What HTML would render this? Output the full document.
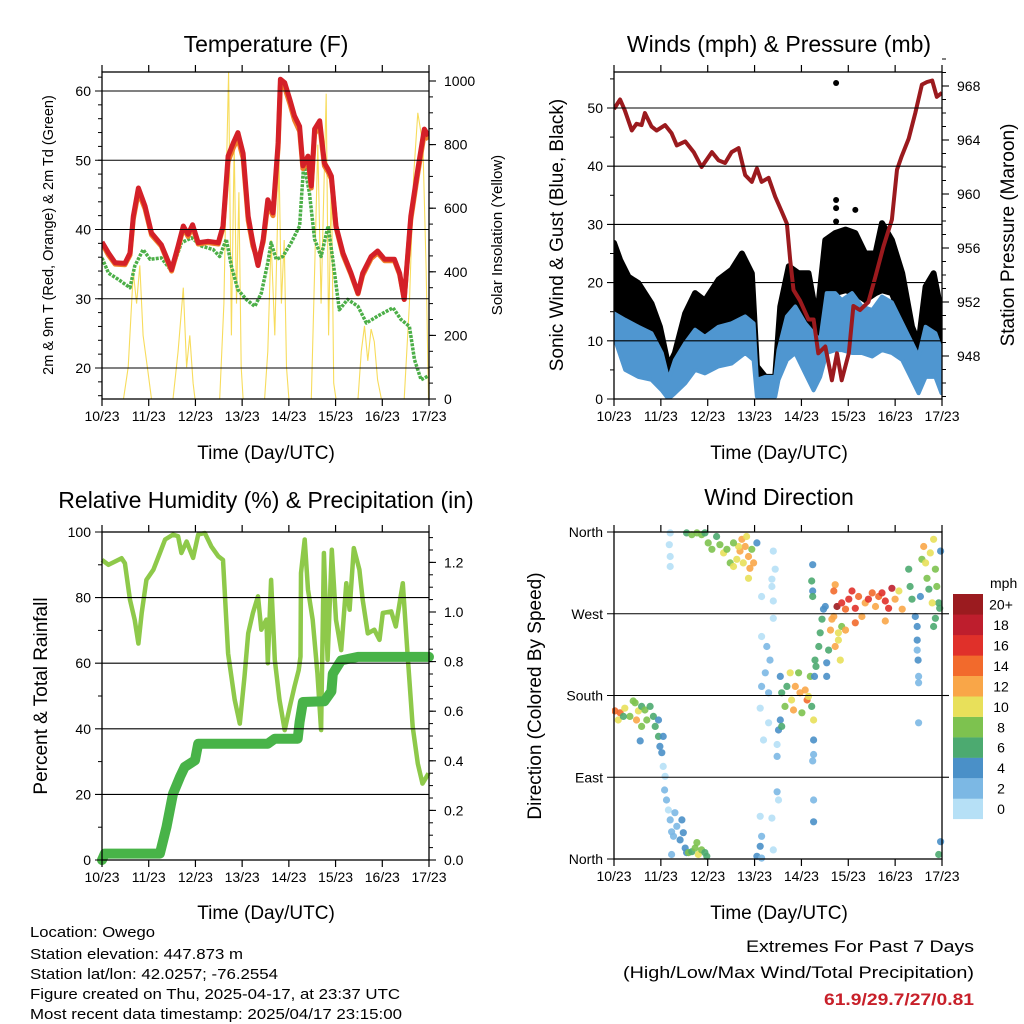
<!DOCTYPE html>
<html><head><meta charset="utf-8"><style>
html,body{margin:0;padding:0;background:#fff;}
svg{display:block;font-family:"Liberation Sans",Arial,sans-serif;}
</style></head><body>
<svg id="fig" width="1024" height="1024" viewBox="0 0 1024 1024" xmlns="http://www.w3.org/2000/svg">
<defs>
<clipPath id="c1"><rect x="102" y="72" width="327" height="327"/></clipPath>
<clipPath id="c2"><rect x="614" y="72" width="328" height="327"/></clipPath>
<clipPath id="c3"><rect x="96" y="526" width="340" height="340"/></clipPath>
<clipPath id="c4"><rect x="612" y="528" width="334" height="336"/></clipPath>
</defs>
<text x="266" y="52" font-size="23" text-anchor="middle">Temperature (F)</text>
<text x="779" y="52" font-size="23" text-anchor="middle">Winds (mph) &amp; Pressure (mb)</text>
<text x="266" y="508" font-size="23" text-anchor="middle">Relative Humidity (%) &amp; Precipitation (in)</text>
<text x="779" y="505" font-size="23" text-anchor="middle">Wind Direction</text>
<text x="266" y="459" font-size="19" text-anchor="middle">Time (Day/UTC)</text>
<text x="779" y="459" font-size="19" text-anchor="middle">Time (Day/UTC)</text>
<text x="266" y="919" font-size="19" text-anchor="middle">Time (Day/UTC)</text>
<text x="779" y="919" font-size="19" text-anchor="middle">Time (Day/UTC)</text>
<text transform="translate(53,235) rotate(-90)" font-size="14.5" text-anchor="middle">2m &amp; 9m T (Red, Orange) &amp; 2m Td (Green)</text>
<text transform="translate(502,235) rotate(-90)" font-size="15" text-anchor="middle">Solar Insolation (Yellow)</text>
<text transform="translate(563,235) rotate(-90)" font-size="19" text-anchor="middle">Sonic Wind &amp; Gust (Blue, Black)</text>
<text transform="translate(1014,235) rotate(-90)" font-size="19" text-anchor="middle">Station Pressure (Maroon)</text>
<text transform="translate(47,696) rotate(-90)" font-size="19" text-anchor="middle">Percent &amp; Total Rainfall</text>
<text transform="translate(541,696) rotate(-90)" font-size="19" text-anchor="middle">Direction (Colored By Speed)</text>
<g font-size="15">
<text x="30" y="937" textLength="125" lengthAdjust="spacingAndGlyphs">Location: Owego</text>
<text x="30" y="959" textLength="213" lengthAdjust="spacingAndGlyphs">Station elevation: 447.873 m</text>
<text x="30" y="979" textLength="248" lengthAdjust="spacingAndGlyphs">Station lat/lon: 42.0257; -76.2554</text>
<text x="30" y="999" textLength="370" lengthAdjust="spacingAndGlyphs">Figure created on Thu, 2025-04-17, at 23:37 UTC</text>
<text x="30" y="1019" textLength="372" lengthAdjust="spacingAndGlyphs">Most recent data timestamp: 2025/04/17 23:15:00</text>
</g>
<g font-size="17">
<text x="974" y="952" text-anchor="end" textLength="228" lengthAdjust="spacingAndGlyphs">Extremes For Past 7 Days</text>
<text x="974" y="978" text-anchor="end" textLength="351" lengthAdjust="spacingAndGlyphs">(High/Low/Max Wind/Total Precipitation)</text>
<text x="974" y="1005" text-anchor="end" font-weight="bold" fill="#c8202a" textLength="150" lengthAdjust="spacingAndGlyphs">61.9/29.7/27/0.81</text>
</g>
</svg>
<script>
// ---------- data ----------
const dayLabels=["10/23","11/23","12/23","13/23","14/23","15/23","16/23","17/23"];
// Temperature panel
const tempDays=[0,.14,.28,.49,.60,.67,.78,.92,1.06,1.27,1.49,1.63,1.74,1.84,1.94,2.06,2.27,2.49,2.59,2.70,2.81,2.91,3.02,3.13,3.23,3.34,3.45,3.55,3.66,3.77,3.82,3.91,4.02,4.12,4.23,4.30,4.41,4.48,4.55,4.66,4.76,4.84,4.91,5.01,5.16,5.33,5.48,5.58,5.76,5.90,6.05,6.26,6.37,6.47,6.61,6.76,6.90,6.99];
const temp2m=[38.2,36.6,35.2,35.1,36.6,41.9,46,43.4,39.5,37.8,34.2,37.6,40.5,39.3,40.7,38.1,38.3,38.1,40.5,50.6,52.5,54,51,41.9,38.1,34.8,38.6,44.3,42.4,52.5,61.7,61.2,58.8,56.4,54.9,49.2,50.6,46.3,54.5,55.7,49.6,48.7,47.7,40.5,36.6,33.7,30.8,33.7,36.1,36.9,35.7,35.7,33.7,29.9,41.9,48.7,54.5,53.5];
const temp9m=[38.0,36.3,35.0,34.9,36.3,41.5,45.4,43.0,39.2,37.6,34.0,37.3,40.2,39.0,40.3,37.9,38.1,37.9,40.2,49.8,51.8,53.2,50.3,41.3,37.6,35.5,38.2,43.6,42.0,51.8,60.8,60.5,58.2,55.8,54.2,48.8,50.1,46.0,53.8,55.0,49.2,48.3,47.3,40.3,36.3,33.5,30.7,33.4,35.8,36.6,35.5,35.5,33.5,29.9,41.4,48.1,53.8,53.0];
const dewDays=[0,.14,.35,.60,.70,.88,1.03,1.27,1.49,1.70,1.92,2.13,2.38,2.52,2.66,2.77,2.91,3.09,3.27,3.41,3.55,3.62,3.73,3.87,4.05,4.23,4.32,4.44,4.55,4.69,4.84,4.94,5.08,5.26,5.48,5.66,5.90,6.23,6.40,6.58,6.69,6.83,6.97];
const dewPoint=[35.9,33.7,32.8,31.6,34.7,37.1,35.7,35.9,34,38.1,38.8,37.6,37.1,36.1,38.6,34.7,31.3,29.9,28.9,30.8,35.2,38.1,35.7,36.1,38.1,40.5,49.6,45.3,38.6,36.1,40.5,35.7,28.4,29.9,28.9,26.5,27.5,28.7,27,26,21.2,18.3,18.8];
const solarDays=[0,.46,.56,.67,.74,.81,.88,.99,1.06,1.52,1.63,1.74,1.81,1.88,1.95,1.99,2.52,2.61,2.66,2.71,2.77,2.83,2.88,2.93,2.98,3.02,3.48,3.55,3.62,3.70,3.79,3.84,3.90,3.95,4.00,4.48,4.55,4.62,4.69,4.80,4.85,4.91,4.96,5.01,5.48,5.55,5.62,5.69,5.76,5.83,5.90,5.98,6.47,6.58,6.67,6.76,6.87,6.94,6.99];
const solar=[0,0,100,400,300,420,200,80,0,0,150,350,100,200,50,0,0,300,700,1030,200,800,300,650,100,0,0,150,500,200,750,300,500,100,0,0,400,800,300,960,200,700,50,0,0,150,230,120,220,180,60,0,0,300,700,900,800,400,0];
// Wind / pressure panel
const pressDays=[0,.13,.23,.38,.48,.59,.66,.80,.91,1.09,1.23,1.34,1.52,1.70,1.87,2.09,2.23,2.37,2.51,2.66,2.80,2.94,3.05,3.15,3.30,3.44,3.58,3.69,3.76,3.83,3.97,4.15,4.26,4.36,4.51,4.65,4.76,4.86,5.01,5.11,5.25,5.43,5.58,5.75,5.93,6.04,6.14,6.29,6.43,6.57,6.68,6.79,6.89,7.0];
const pressure=[966.3,967,966.2,964.7,965.2,965.1,966,965,964.7,965.1,964.5,963.6,963.9,963.1,962,963.1,962.5,962.3,963.1,963.4,961.4,960.9,961.9,960.9,961.2,959.8,958.7,957.8,955.1,952.9,952.1,950.7,950.7,948.2,948.7,946.2,948.2,946.2,948.2,951.7,951.4,952,953.9,956.1,958.1,961.8,962.8,964.1,966,968.1,968.3,968.4,967.2,967.5];
const sustDays=[0,.24,.52,.80,1.02,1.16,1.30,1.52,1.73,1.94,2.23,2.51,2.80,2.98,3.05,3.23,3.44,3.51,3.69,3.87,4.08,4.26,4.40,4.54,4.72,4.86,5.08,5.29,5.51,5.72,5.93,6.15,6.36,6.50,6.65,6.86,6.99];
const sustLow=[10.7,5.0,3.8,3.3,1.5,0,1.0,2.7,5.0,4.4,5.6,6.1,7.9,6.7,0.4,0,0.4,3.3,6.7,7.9,4.4,1.5,3.8,7.9,8.4,8.4,7.9,7.9,7.3,8.4,7.9,6.7,3.3,1.0,3.8,3.8,1.0];
const sustHigh=[14.7,13.6,12.4,11.3,7.9,3.3,6.7,9.6,11.9,10.7,12.4,13.0,14.2,13.0,3.3,3.8,3.8,8.4,14.2,15.9,13.0,11.3,10.1,18.2,18.2,17.0,18.2,15.9,15.3,17.6,16.6,13.0,9.6,7.3,12.4,11.3,8.4];
const gustDays=[0,.13,.31,.52,.80,.98,1.16,1.30,1.52,1.73,1.94,2.23,2.51,2.73,2.94,3.05,3.23,3.44,3.55,3.73,3.94,4.15,4.33,4.51,4.72,4.94,5.15,5.36,5.58,5.72,5.93,6.15,6.36,6.50,6.65,6.82,6.99];
const gustLow=[14.7,11.3,9.6,9.6,9.0,6.7,3.3,5.0,7.9,10.1,9.0,10.7,12.4,14.2,13.0,3.3,1.5,1.5,7.9,13.6,14.2,11.3,7.9,15.9,18.2,18.7,18.2,17.0,18.2,18.7,18.2,13.6,6.7,5.6,11.3,12.4,7.9];
const gustHigh=[26.8,23.9,21.0,19.9,16.4,12.4,5.6,7.9,14.7,18.2,16.9,20.5,22.2,25.0,21.6,5.6,3.8,3.8,15.9,22.8,21.6,21.6,13.6,27.3,28.5,29.1,28.5,25.0,25.0,30.2,27.3,21.6,12.4,9.6,19.3,21.6,14.7];
const gustOutDays=[4.74,4.74,4.74,4.74,5.15];
const gustOut=[54.3,34.2,32.8,30.5,32.5];
// RH / precip panel
const rhDays=[0,.14,.28,.42,.49,.60,.70,.78,.85,.95,1.10,1.24,1.35,1.52,1.63,1.70,1.81,1.95,2.06,2.20,2.34,2.49,2.59,2.70,2.84,2.95,3.05,3.13,3.23,3.34,3.41,3.52,3.55,3.62,3.70,3.80,3.91,4.02,4.12,4.21,4.25,4.26,4.34,4.41,4.51,4.61,4.69,4.75,4.83,4.92,5.01,5.12,5.23,5.30,5.39,5.51,5.58,5.69,5.83,5.94,6.01,6.19,6.29,6.44,6.54,6.65,6.76,6.86,6.99];
const rh=[91.5,90,91,92,90.5,79.3,73.2,66,75.3,85.4,88.5,93.6,97.7,99.2,98.7,93.6,97.1,92.1,99.2,99.7,95.6,92.6,91.5,63,48.8,41.6,55.9,69.1,75.3,80.4,70.2,73.3,60,85.4,61,48.8,39.6,46.7,52.9,57.9,62,87.5,97.7,82.4,73.2,57,39.6,93.6,61,94.6,73.2,64,84.4,76.3,95.1,88.5,79.3,69.1,70.2,67.1,75.3,75.8,71.2,84.4,63,40.6,29.4,23.3,26.4];
const precipDays=[0,.06,1.24,1.38,1.52,1.67,1.77,1.99,2.06,3.55,3.70,4.19,4.23,4.30,4.76,4.91,4.94,5.12,5.48,7.0];
const precip=[0,.026,.026,.133,.267,.335,.375,.402,.469,.469,.489,.489,.556,.637,.64,.68,.751,.805,.819,.819];
// Wind direction panel
const dirDays=[.02,.13,.09,.23,.34,.45,.52,.59,.66,.70,.77,.84,.88,.95,.95,.98,1.05,1.02,.59,.48,.41,.20,.56,
1.05,1.09,1.08,1.12,1.16,1.20,1.23,1.27,1.30,1.34,1.41,1.45,1.48,1.52,1.23,1.55,
1.59,1.66,1.73,1.80,1.87,1.94,1.98,1.77,1.20,1.18,1.20,1.20,
1.55,1.66,1.77,1.87,1.94,2.01,2.09,2.19,2.26,2.34,2.41,2.48,2.55,2.62,2.69,2.73,2.80,2.87,2.83,2.94,2.98,3.05,2.87,2.90,2.76,2.66,2.55,
3.15,3.40,3.44,3.37,3.40,3.40,3.15,3.26,3.33,3.23,3.15,3.30,3.12,3.30,3.19,3.48,3.48,3.48,3.51,3.12,3.37,3.15,3.05,3.15,3.40,3.12,3.37,
3.55,3.58,3.55,3.51,3.65,3.69,3.76,3.79,3.83,3.87,3.94,3.97,4.01,4.08,4.12,4.15,4.19,4.26,4.22,3.58,
4.24,4.22,4.24,4.24,4.26,4.26,4.24,4.26,4.26,4.29,4.31,4.28,
4.37,4.40,4.44,4.47,4.51,4.54,4.54,4.58,4.62,4.65,4.69,4.72,4.79,4.83,4.86,4.72,4.69,4.76,
4.86,4.94,5.01,5.08,5.15,5.22,5.29,5.36,5.43,5.51,5.58,5.65,5.72,5.79,5.86,5.93,6.00,6.08,6.15,5.79,5.15,4.94,4.79,
6.29,6.32,6.36,6.43,6.47,6.47,6.47,6.49,6.50,6.50,6.50,6.57,6.61,6.65,6.68,6.72,6.75,6.82,6.86,6.89,6.93,6.86,6.82,6.79,6.97,6.95,6.97,6.93,6.54];
const dirDeg=[163,161,153,166,157,172,163,168,164,153,168,157,146,153,135,124,135,117,146,153,174,157,130,
102,91,76,65,54,43,30,25,51,36,21,43,29,12,5,7,
7,8,12,5,10,7,3,18,359,346,333,322,
359,357,359,357,359,348,341,355,346,337,341,326,322,330,339,352,344,333,355,341,326,348,309,320,326,344,348,
289,339,319,300,284,265,245,234,219,205,190,183,166,150,131,126,113,74,65,47,45,25,3,1,10,14,308,
201,183,153,142,168,190,205,175,164,190,205,183,161,186,175,179,201,153,168,146,
324,306,295,289,131,115,108,65,41,219,212,201,
234,249,264,275,278,216,201,230,252,264,267,234,249,219,256,302,295,278,
282,275,286,295,276,289,267,282,286,293,278,289,293,284,276,298,286,295,275,262,260,252,241,
319,300,286,267,256,241,230,219,201,194,150,330,344,326,309,297,337,352,319,300,282,265,256,282,339,276,19,5,289];
const dirSpeed=[14,14,11,10,9,8,10,7,9,8,7,6,6,5,6,5,4,5,8,12,9,7,4,
1,1,2,2,1,2,2,3,3,3,4,4,4,4,3,5,
8,7,9,10,8,6,7,9,1,1,1,1,
7,8,9,8,7,8,9,6,8,10,9,8,10,11,12,13,12,12,11,9,12,5,10,13,11,11,9,
1,1,1,1,1,1,1,2,2,2,2,2,1,1,1,1,2,2,1,1,1,3,4,2,1,4,1,
4,7,4,4,9,6,11,10,13,12,9,12,8,13,14,11,9,10,7,6,
4,6,4,7,4,3,2,2,4,6,7,5,
6,7,6,5,5,4,4,7,12,13,12,13,11,10,9,13,14,20,
16,15,17,17,16,14,12,12,16,14,13,15,17,17,16,18,13,11,12,13,14,12,10,
7,6,7,4,4,4,3,4,3,3,2,8,12,10,9,7,11,10,8,8,6,7,7,10,4,6,4,6,4];
const cbarLabels=["0","2","4","6","8","10","12","14","16","18","20+"];
const cbarColors=["#b6e0f6","#7cb8e4","#4a90c8","#4caa70","#7dc24f","#e8e05a","#f9a648","#f26a2c","#e0302a","#be1e2d","#9b1b1f"];

// ---------- helpers ----------
const NS="http://www.w3.org/2000/svg";
const svg=document.getElementById("fig");
function mk(tag,attrs,parent){const e=document.createElementNS(NS,tag);for(const k in attrs)e.setAttribute(k,attrs[k]);(parent||svg).appendChild(e);return e;}
function lineStr(xs,ys,fx,fy){return xs.map((d,i)=>(i?"L":"M")+fx(d).toFixed(1)+","+fy(ys[i]).toFixed(1)).join("");}
function bandStr(xs,lo,hi,fx,fy){let s=xs.map((d,i)=>(i?"L":"M")+fx(d).toFixed(1)+","+fy(hi[i]).toFixed(1)).join("");for(let i=xs.length-1;i>=0;i--)s+="L"+fx(xs[i]).toFixed(1)+","+fy(lo[i]).toFixed(1);return s+"Z";}
function frame(P,name){
  const g=mk("g",{});
  
  
  mk("rect",{x:P.x0,y:P.y0,width:P.x1-P.x0,height:P.y1-P.y0,fill:"none",stroke:"#000","stroke-width":1.3},g);
  for(let d=0;d<=7;d++){
    const x=P.x0+d*(P.x1-P.x0)/7;
    mk("line",{x1:x,x2:x,y1:P.y1,y2:P.y1+7,stroke:"#000","stroke-width":1.2},g);
    mk("line",{x1:x,x2:x,y1:P.y0,y2:P.y0-7,stroke:"#000","stroke-width":1.2},g);
    const t=mk("text",{x:x,y:P.y1+22,"font-size":14,"text-anchor":"middle"},g);
    t.textContent=dayLabels[d];
  }
  return g;
}
function leftAxis(P,g,vals,fy,labels,minorVals){
  vals.forEach((v,i)=>{const y=fy(v);
    mk("line",{x1:P.x0-7,x2:P.x1,y1:y,y2:y,stroke:"#000","stroke-width":1.1},g);
    const t=mk("text",{x:P.x0-11,y:y+5,"font-size":14,"text-anchor":"end"},g);t.textContent=labels[i];});
  (minorVals||[]).forEach(v=>{const y=fy(v);mk("line",{x1:P.x0-4,x2:P.x0,y1:y,y2:y,stroke:"#000","stroke-width":1},g);});
}
function rightAxis(P,g,vals,fy,labels,minorVals){
  vals.forEach((v,i)=>{const y=fy(v);
    mk("line",{x1:P.x1,x2:P.x1+7,y1:y,y2:y,stroke:"#000","stroke-width":1.1},g);
    const t=mk("text",{x:P.x1+15,y:y+5,"font-size":14},g);t.textContent=labels[i];});
  minorVals.forEach(v=>{const y=fy(v);mk("line",{x1:P.x1,x2:P.x1+4,y1:y,y2:y,stroke:"#000","stroke-width":1},g);});
}
function range(a,b,s){const r=[];for(let v=a;v<=b+1e-9;v+=s)r.push(+v.toFixed(4));return r;}

// ---------- panel 1: temperature ----------
const P1={x0:102,x1:429,y0:72,y1:399};
const x1f=d=>P1.x0+d/7*(P1.x1-P1.x0);
const yT=v=>368-(v-20)*6.925;
const yS=v=>399-v*0.318;
const g1=frame(P1,"temperature-panel");
const d1=mk("g",{"clip-path":"url(#c1)"});


const solarPath=mk("path",{d:lineStr(solarDays,solar,x1f,yS),fill:"none",stroke:"#f7dc5c","stroke-width":1.1},d1);


const dewPath=mk("path",{d:lineStr(dewDays,dewPoint,x1f,yT),fill:"none",stroke:"#4caf48","stroke-width":3.5,"stroke-dasharray":"3 1.2","stroke-linejoin":"round"},d1);


const t9Path=mk("path",{d:lineStr(tempDays,temp9m,x1f,yT),fill:"none",stroke:"#f07f2a","stroke-width":5,"stroke-linejoin":"round"},d1);


const t2Path=mk("path",{d:lineStr(tempDays,temp2m,x1f,yT),fill:"none",stroke:"#d42028","stroke-width":5,"stroke-linejoin":"round"},d1);


leftAxis(P1,g1,[20,30,40,50,60],yT,["20","30","40","50","60"],range(16,62,2));
rightAxis(P1,g1,[0,200,400,600,800,1000],yS,["0","200","400","600","800","1000"],range(0,1000,50));
svg.appendChild(g1);

// ---------- panel 2: winds & pressure ----------
const P2={x0:614,x1:942,y0:72,y1:399};
const x2f=d=>P2.x0+d/7*(P2.x1-P2.x0);
const yW=v=>399-v*5.82;
const yP=v=>356-(v-948)*13.5;
const g2=frame(P2,"wind-pressure-panel");
const d2=mk("g",{"clip-path":"url(#c2)"});


const gustBand=mk("path",{d:bandStr(gustDays,gustLow,gustHigh,x2f,yW),fill:"#000",stroke:"#000","stroke-width":6,"stroke-linejoin":"round"},d2);


gustOutDays.forEach((d,i)=>{
  const c=mk("circle",{cx:x2f(d),cy:yW(gustOut[i]),r:3,fill:"#000"},d2);
  
  
});
const sustBand=mk("path",{d:bandStr(sustDays,sustLow,sustHigh,x2f,yW),fill:"#4f96d0",stroke:"#4f96d0","stroke-width":4,"stroke-linejoin":"round"},d2);


const pPath=mk("path",{d:lineStr(pressDays,pressure,x2f,yP),fill:"none",stroke:"#9b1a1e","stroke-width":4,"stroke-linejoin":"round"},d2);


leftAxis(P2,g2,[0,10,20,30,40,50],yW,["0","10","20","30","40","50"],range(5,55,10));
rightAxis(P2,g2,[948,952,956,960,964,968],yP,["948","952","956","960","964","968"],range(945,970,1));
svg.appendChild(g2);

// ---------- panel 3: RH & precip ----------
const P3={x0:102,x1:429,y0:532,y1:860};
const x3f=d=>P3.x0+d/7*(P3.x1-P3.x0);
const yR=v=>860-v*3.28;
const yIn=v=>860-v*248;
const g3=frame(P3,"humidity-precip-panel");
const d3=mk("g",{"clip-path":"url(#c3)"});


const rhPath=mk("path",{d:lineStr(rhDays,rh,x3f,yR),fill:"none",stroke:"#8ec94a","stroke-width":4.5,"stroke-linejoin":"round"},d3);


const prPath=mk("path",{d:lineStr(precipDays,precip,x3f,yIn),fill:"none",stroke:"#48b348","stroke-width":10,"stroke-linejoin":"round","stroke-linecap":"round"},d3);


leftAxis(P3,g3,[0,20,40,60,80,100],yR,["0","20","40","60","80","100"],range(10,90,20));
rightAxis(P3,g3,[0,.2,.4,.6,.8,1.0,1.2],yIn,["0.0","0.2","0.4","0.6","0.8","1.0","1.2"],range(0,1.3,.05));
svg.appendChild(g3);

// ---------- panel 4: wind direction ----------
const P4={x0:614,x1:942,y0:532,y1:859};
const x4f=d=>P4.x0+d/7*(P4.x1-P4.x0);
const yD=v=>859-v*(327/360);
const g4=frame(P4,"wind-direction-panel");
const colorFor=s=>cbarColors[Math.min(10,Math.floor(s/2))];
const d4=mk("g",{"clip-path":"url(#c4)"});


dirDays.forEach((d,i)=>{
  const c=mk("circle",{cx:x4f(d).toFixed(1),cy:yD(dirDeg[i]).toFixed(1),r:3.6,fill:colorFor(dirSpeed[i]),"fill-opacity":0.9},d4);
  
  
});
leftAxis(P4,g4,[0,90,180,270,360],yD,["North","East","South","West","North"],[]);
[90,180,270].forEach(v=>{mk("line",{x1:P4.x1,x2:P4.x1+7,y1:yD(v),y2:yD(v),stroke:"#000","stroke-width":1.1},g4);});
svg.appendChild(g4);
// colorbar
const cb=mk("g",{});


const cbt=mk("text",{x:990,y:588,"font-size":14},cb);
cbt.textContent="mph";
cbarColors.forEach((col,i)=>{
  const y=819-(i+1)*20.45;
  const r=mk("rect",{x:953,y:y.toFixed(1),width:30,height:20.6,fill:col},cb);
  
  
  const t=mk("text",{x:1001,y:(y+15.5).toFixed(1),"font-size":14,"text-anchor":"middle"},cb);
  t.textContent=cbarLabels[i];
});
</script>
</body></html>
